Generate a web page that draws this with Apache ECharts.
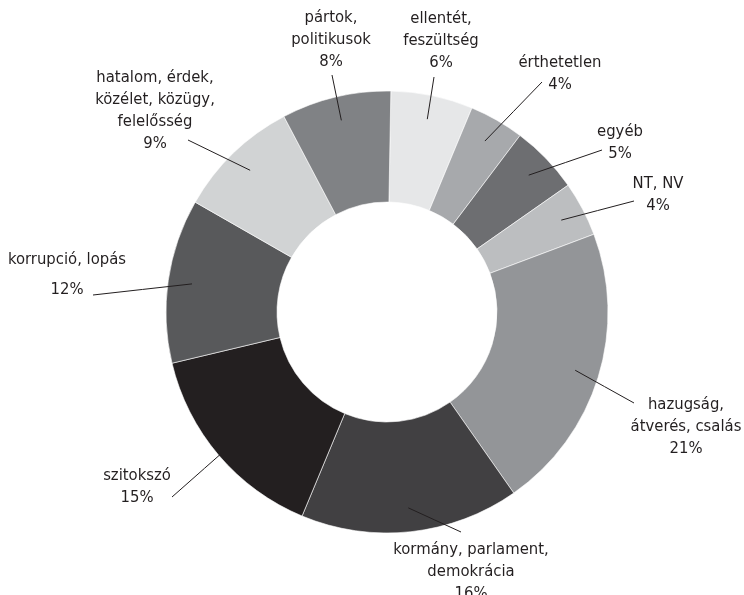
<!DOCTYPE html>
<html><head><meta charset="utf-8">
<script src="https://cdn.jsdelivr.net/npm/echarts@6/dist/echarts.min.js"></script>
<style>html,body{margin:0;padding:0;background:#fff}#c{width:744px;height:595px}</style>
</head><body><div id="c"></div>
<script>
// Data (clockwise from 12 o'clock)
const categories = [
  'ellentét,\nfeszültség',
  'érthetetlen',
  'egyéb',
  'NT, NV',
  'hazugság,\nátverés, csalás',
  'kormány, parlament,\ndemokrácia',
  'szitokszó',
  'korrupció, lopás',
  'hatalom, érdek,\nközélet, közügy,\nfelelősség',
  'pártok,\npolitikusok'
];
const values = [6, 4, 5, 4, 21, 16, 15, 12, 9, 8];

// Styles / layout
const colors = ['#e6e7e8', '#a7a9ac', '#6d6e71', '#bcbec0', '#939598', '#414042', '#231f20', '#58595b', '#d1d3d4', '#808285'];
const labelCenters = [[441, 41], [560, 74], [620, 143], [658, 195], [686, 427], [471, 572], [137, 487], [67, 275], [155, 111], [331, 40]];
const lineEnds = [[434, 77], [542, 82], [602, 150], [634, 201], [634, 403], [461, 532], [172, 497], [93, 295], [188, 140], [332, 75]];
const CX = 387, CY = 312, R0 = 110, R1 = 221, RLINE = 197;

const chart = echarts.init(document.getElementById('c'), null, {renderer: 'canvas'});
const FONT = '"DejaVu Sans Condensed", "DejaVu Sans", sans-serif';
const base = {
  type: 'pie',
  center: [CX, CY],
  radius: [R0, R1],
  startAngle: 89,
  clockwise: true,
  avoidLabelOverlap: false,
  emphasis: {disabled: true}
};
chart.setOption({
  animation: false,
  backgroundColor: '#ffffff',
  series: [
    Object.assign({}, base, {
      z: 1,
      itemStyle: {borderColor: '#ffffff', borderWidth: 0.6},
      label: {show: false},
      labelLine: {show: false},
      data: categories.map((name, i) => ({name: name, value: values[i], itemStyle: {color: colors[i]}}))
    }),
    Object.assign({}, base, {
      z: 5,
      itemStyle: {color: 'rgba(0,0,0,0)', borderWidth: 0},
      label: {
        show: true,
        position: 'outside',
        formatter: '{b}\n{c}%',
        fontFamily: FONT,
        fontSize: 16.5,
        lineHeight: 22,
        color: '#231f20',
        align: 'center'
      },
      labelLine: {show: true, length: 10, length2: 10, lineStyle: {color: '#231f20', width: 1}},
      labelLayout: function (p) {
        const i = p.dataIndex;
        const pts = p.labelLinePoints;
        const e = lineEnds[i];
        const res = {x: labelCenters[i][0], y: labelCenters[i][1], align: 'center', verticalAlign: 'middle'};
        if (pts && pts.length) {
          const dx = pts[0][0] - CX, dy = pts[0][1] - CY;
          const d = Math.hypot(dx, dy) || 1;
          const sx = CX + dx * RLINE / d, sy = CY + dy * RLINE / d;
          res.labelLinePoints = [[sx, sy], [(sx + e[0]) / 2, (sy + e[1]) / 2], [e[0], e[1]]];
        }
        return res;
      },
      data: categories.map((name, i) => {
        const item = {name: name, value: values[i], itemStyle: {color: 'rgba(0,0,0,0)'}};
        if (i === 7) item.label = {lineHeight: 30};
        return item;
      })
    })
  ]
});
</script>
</body></html>
